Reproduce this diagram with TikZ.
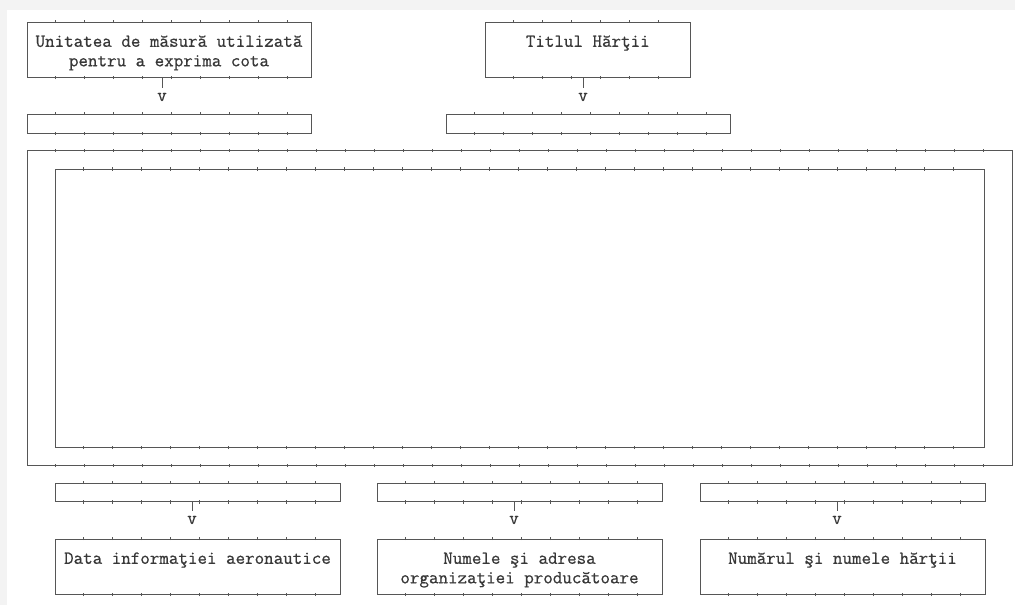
\documentclass[tikz,border=0pt]{standalone}
\usepackage{fontspec}
\setmonofont[FakeBold=0.6]{Latin Modern Mono}
\usepackage{tikz}
\usetikzlibrary{decorations.markings}

\definecolor{rulegray}{HTML}{565656}
\definecolor{inkgray}{HTML}{383838}
\definecolor{margingray}{HTML}{F3F3F3}

\begin{document}
\begin{tikzpicture}[
  x=1pt, y=-1pt,
  every node/.style={font=\fontsize{18.5}{19.5}\selectfont\ttfamily\bfseries, text=inkgray},
  frame/.style={draw=rulegray, line width=0.9pt, inner sep=0pt, align=center},
  tickrow/.style={decorate, decoration={markings,
      mark=between positions 29pt and -4pt step 29pt with
      {\draw[rulegray, line width=0.9pt] (0,-1.6pt) -- (0,1.6pt);}}},
  stem/.style={draw=rulegray, line width=0.9pt, shorten >=3pt},
  tip/.style={inner sep=2pt}
]
\useasboundingbox (0,0) rectangle (1015,605);
\fill[margingray] (0,0) rectangle (1015,605);
\fill[white] (7,10) rectangle (1015,605);

% ---- TOP: unit and title boxes ----
\node[frame, minimum width=284pt, minimum height=55pt] (unit) at (169,49.5)
  {\rule{0pt}{20pt}Unitatea de măsură utilizată\\pentru a exprima cota\strut};
\node[frame, minimum width=205.5pt, minimum height=55pt] (title) at (587.75,49.5)
  {\rule{0pt}{20pt}Titlul Hărţii\\\strut};

\node[frame, minimum width=284pt, minimum height=19pt] (unitval) at (169,123.5) {};
\node[frame, minimum width=284pt, minimum height=19pt] (titleval) at (588,123.5) {};

\node[tip] (unitv) at (162,97) {v};
\node[tip] (titlev) at (583,97) {v};
\draw[stem] (unitv |- unit.south) -- (unitv.north);
\draw[stem] (titlev |- title.south) -- (titlev.north);

% ---- MIDDLE: map sheet and map face ----
\node[frame, minimum width=985.5pt, minimum height=314.3pt] (sheet) at (519.75,307.85) {};
\node[frame, minimum width=929pt, minimum height=277.5pt] (mapface) at (519.5,308.25) {};

% ---- BOTTOM: date, producer and chart number ----
\node[frame, minimum width=285pt, minimum height=18.5pt] (dateval) at (197.5,492.25) {};
\node[frame, minimum width=285pt, minimum height=18.5pt] (orgval) at (519.5,492.25) {};
\node[frame, minimum width=285pt, minimum height=18.5pt] (numval) at (842.5,492.25) {};

\node[frame, minimum width=285pt, minimum height=55pt] (date) at (197.5,566.5)
  {\rule{0pt}{20pt}Data informaţiei aeronautice\\\strut};
\node[frame, minimum width=285pt, minimum height=55pt] (org) at (519.5,566.5)
  {\rule{0pt}{20pt}Numele şi adresa\\organizaţiei producătoare\strut};
\node[frame, minimum width=285pt, minimum height=55pt] (num) at (842.5,566.5)
  {\rule{0pt}{20pt}Numărul şi numele hărţii\\\strut};

\node[tip] (datev) at (192,520) {v};
\node[tip] (orgv) at (514,520) {v};
\node[tip] (numv) at (837,520) {v};
\draw[stem] (datev |- dateval.south) -- (datev.north);
\draw[stem] (orgv |- orgval.south) -- (orgv.north);
\draw[stem] (numv |- numval.south) -- (numv.north);

% ---- tick marks on the horizontal rules ----
\foreach \n in {unit,title,unitval,titleval,sheet,mapface,dateval,orgval,numval,date,org,num}{
  \path[tickrow] (\n.north west) -- (\n.north east);
  \path[tickrow] (\n.south west) -- (\n.south east);
}

\end{tikzpicture}
\end{document}
